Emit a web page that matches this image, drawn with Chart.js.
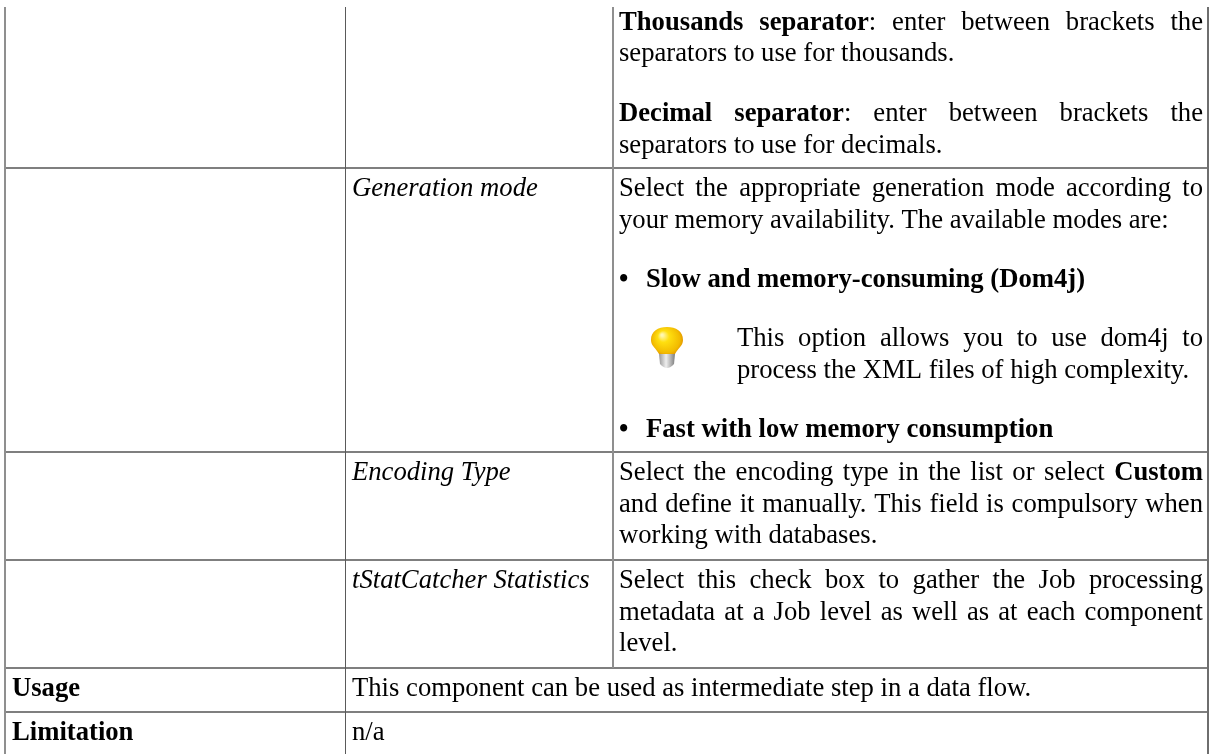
<!DOCTYPE html>
<html>
<head>
<meta charset="utf-8">
<title>Thousands separator table</title>
<script src="https://cdn.jsdelivr.net/npm/chart.js@4/dist/chart.umd.min.js"></script>
<style>
  html, body { margin:0; padding:0; background:#fff; }
  canvas { display:block; filter:blur(.35px); }
</style>
</head>
<body>
<canvas id="tbl" width="1211" height="754"></canvas>
<script>
// The reference is a table with no plotted data, so the axes run in page pixels
// and the rules, text lines and lamp are all points on them.

// ── table rules ──
const vRuleX    = [5, 345.5, 613, 1208];
const vRuleFrom = [7, 7, 7, 7];
const vRuleTo   = [754, 754, 668, 754];
const vRuleW    = [2, 1, 2, 2];
const vRuleC    = ['#8f8f8f', '#5a5a5a', '#8f8f8f', '#6e6e6e'];
const hRuleY    = [168, 452, 560, 668, 712];

// ── text lines ──
const textLines = [
  [['b','Thousands separator'],['r',': enter between brackets the']],
  [['r','separators to use for thousands.']],
  [['b','Decimal separator'],['r',': enter between brackets the']],
  [['r','separators to use for decimals.']],
  [['i','Generation mode']],
  [['r','Select the appropriate generation mode according to']],
  [['r','your memory availability. The available modes are:']],
  [['b','•']],
  [['b','Slow and memory-consuming (Dom4j)']],
  [['r','This option allows you to use dom4j to']],
  [['r','process the XML files of high complexity.']],
  [['b','•']],
  [['b','Fast with low memory consumption']],
  [['i','Encoding Type']],
  [['r','Select the encoding type in the list or select '],['b','Custom']],
  [['r','and define it manually. This field is compulsory when']],
  [['r','working with databases.']],
  [['i','tStatCatcher Statistics']],
  [['r','Select this check box to gather the Job processing']],
  [['r','metadata at a Job level as well as at each component']],
  [['r','level.']],
  [['b','Usage']],
  [['r','This component can be used as intermediate step in a data flow.']],
  [['b','Limitation']],
  [['r','n/a']],
];
const textX = [619,619,619,619,352,619,619,619,646,737,737,619,646,352,619,619,619,352,619,619,619,12,352,12,352];
const textY = [30,61,121,152.5,196,196,227.5,287,287,345.5,377.5,436.5,436.5,480,480,511.5,543,588,588,619.5,651,696,696,740,740];
// right edge for justified lines, 0 = left aligned
const textJustify = [1203,0,1203,0,0,1203,0,0,0,1203,0,0,0,0,1203,1203,0,0,1203,1203,0,0,0,0,0];

// ── lamp icon ──
const lampX = [667];
const lampY = [348];

const FONT_SIZE = 26.67;
const FONT_FAMILY = '"Liberation Serif"';
const RULE_COLOR = '#7f7f7f';
const fontFor = k => (k === 'b' ? 'bold ' : k === 'i' ? 'italic ' : '') + FONT_SIZE + 'px ' + FONT_FAMILY;

function makeLamp() {
  const c = document.createElement('canvas');
  c.width = 34; c.height = 44;
  const g = c.getContext('2d');
  const cap = g.createLinearGradient(8, 0, 26, 0);
  cap.addColorStop(0, '#8c8c8c'); cap.addColorStop(.45, '#eeeeee'); cap.addColorStop(1, '#707070');
  g.fillStyle = cap;
  g.beginPath(); g.moveTo(9, 28); g.lineTo(25, 28); g.lineTo(24, 38);
  g.quadraticCurveTo(17, 46, 10, 38); g.closePath(); g.fill();
  const glass = g.createRadialGradient(12, 9, 1, 17, 14, 17);
  glass.addColorStop(0, '#fff7b0'); glass.addColorStop(.3, '#ffdf10');
  glass.addColorStop(.8, '#f2bb00'); glass.addColorStop(1, '#e08f00');
  g.fillStyle = glass;
  g.beginPath();
  g.moveTo(9, 28);
  g.bezierCurveTo(6, 22, 1, 20, 1, 14);
  g.bezierCurveTo(1, 5, 8, 1, 17, 1);
  g.bezierCurveTo(26, 1, 33, 5, 33, 14);
  g.bezierCurveTo(33, 20, 28, 22, 25, 28);
  g.closePath(); g.fill();
  return c;
}

const textPlugin = {
  id: 'textLines',
  afterDatasetsDraw(chart) {
    const { ctx, scales: { x, y } } = chart;
    ctx.save();
    ctx.fillStyle = '#000';
    ctx.textBaseline = 'alphabetic';
    textLines.forEach((runs, i) => {
      const left = x.getPixelForValue(textX[i]);
      const base = y.getPixelForValue(textY[i]);
      // natural width first, then spread the rest over the spaces
      let natural = 0, spaces = 0;
      ctx.wordSpacing = '0px';
      runs.forEach(([k, t]) => {
        ctx.font = fontFor(k);
        natural += ctx.measureText(t).width;
        spaces += (t.match(/ /g) || []).length;
      });
      if (textJustify[i] && spaces) {
        const room = x.getPixelForValue(textJustify[i]) - left;
        ctx.wordSpacing = ((room - natural) / spaces) + 'px';
      }
      let pen = left;
      runs.forEach(([k, t]) => {
        ctx.font = fontFor(k);
        ctx.fillText(t, pen, base);
        pen += ctx.measureText(t).width;
      });
    });
    ctx.restore();
  }
};

const ruleSet = (pts, w, col) => ({
  type: 'line', data: pts, borderColor: col, borderWidth: w,
  pointRadius: 0, fill: false, tension: 0, clip: false, borderCapStyle: 'butt',
});

const datasets = [
  ...vRuleX.map((vx, i) => ruleSet([{ x: vx, y: vRuleFrom[i] }, { x: vx, y: vRuleTo[i] }], vRuleW[i], vRuleC[i])),
  ...hRuleY.map(hy => ruleSet([{ x: vRuleX[0], y: hy }, { x: vRuleX[3], y: hy }], 2, RULE_COLOR)),
  {
    type: 'scatter',
    data: lampX.map((lx, i) => ({ x: lx, y: lampY[i] })),
    pointStyle: makeLamp(),
  },
];

new Chart(document.getElementById('tbl'), {
  type: 'scatter',
  data: { datasets },
  plugins: [textPlugin],
  options: {
    responsive: false,
    animation: false,
    layout: { padding: 0, autoPadding: false },
    events: [],
    plugins: { legend: { display: false }, tooltip: { enabled: false } },
    scales: {
      x: { type: 'linear', min: 0, max: 1211, display: false },
      y: { type: 'linear', min: 0, max: 754, reverse: true, display: false },
    },
  },
});
</script>
</body>
</html>
